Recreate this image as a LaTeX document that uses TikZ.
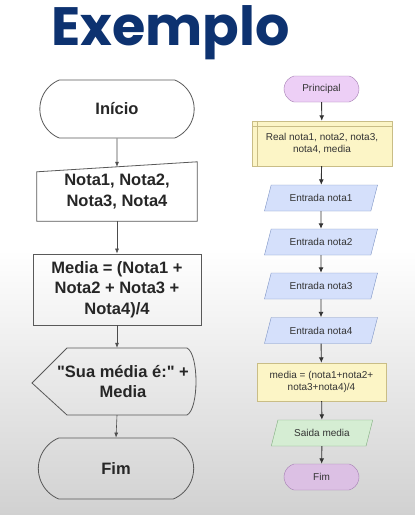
\documentclass[tikz,border=0pt]{standalone}
\usepackage{fontspec}
\newfontfamily\arial{Liberation Sans}
\newfontfamily\titlefont{Poppins}
\usetikzlibrary{shapes.geometric,shapes.misc,arrows.meta,calc}

\definecolor{azultitulo}{HTML}{0D3270}
\definecolor{lilas}{HTML}{EDCFF6}
\definecolor{lilasb}{HTML}{DCC0E4}
\definecolor{lilasborda}{HTML}{A57FB3}
\definecolor{amarelo}{HTML}{FCF5C6}
\definecolor{amareloborda}{HTML}{C9BD86}
\definecolor{azul}{HTML}{D5E0FB}
\definecolor{azulborda}{HTML}{7D93C4}
\definecolor{verde}{HTML}{D5EDD3}
\definecolor{verdeborda}{HTML}{80AE7E}

\begin{document}
\begin{tikzpicture}[x=1pt,y=-1pt]
  % Styles
  \tikzset{
    grande/.style={font=\arial\fontsize{16.5}{20.5}\selectfont\bfseries, align=center, text=black!85},
    pequeno/.style={font=\arial\fontsize{10}{12}\selectfont, align=center, text=black!80, inner sep=1pt},
    linha/.style={draw=black!65, line width=0.8pt},
    term/.style={rounded rectangle, rounded rectangle arc length=135, linha, grande},
    termr/.style={rounded rectangle, rounded rectangle arc length=150, draw=lilasborda, pequeno, minimum width=77, minimum height=26},
    proc/.style={rectangle, draw=amareloborda, fill=amarelo, pequeno},
    entrada/.style={trapezium, trapezium left angle=65, trapezium right angle=115, trapezium stretches=true,
      draw=azulborda, fill=azul, pequeno, minimum width=114, minimum height=26},
    seta/.style={-{Latex[length=5pt,width=4pt]}, black!70, line width=0.6pt},
    setar/.style={-{Latex[length=5.5pt,width=5pt]}, black!80, line width=0.9pt},
  }

  \useasboundingbox (0,0) rectangle (415,515);

  % Fundo
  \fill[white] (0,0) rectangle (415,515);
  \shade[top color=white, bottom color=black!18] (0,250) rectangle (415,515);

  % Titulo
  \node[anchor=base west, inner sep=0pt, text=azultitulo,
    font=\titlefont\fontsize{54}{54}\selectfont\bfseries] (titulo) at (51,45) {Exemplo};

  % Fluxograma da esquerda
  \node[term, minimum width=161, minimum height=58] (inicio) at (117,109) {Início};
  \node[grande, minimum width=160, minimum height=59] (notas) at (117,191.5) {Nota1, Nota2,\\Nota3, Nota4};
  \draw[linha] (notas.south west) -- (notas.south east) -- (notas.north east)
    -- ($(notas.north west)+(0,10)$) -- cycle;
  \node[grande, linha, minimum width=168, minimum height=71] (calculo) at (117,289.5)
    {Media = (Nota1 +\\Nota2 + Nota3 +\\Nota4)/4};
  \node[grande, minimum width=150, minimum height=67] (mostra) at (123,381.5) {"Sua média é:" +\\Media};
  \draw[linha] (32,383) -- (67,348) -- (187,348) .. controls (199,354) and (199,409) .. (187,415)
    -- (67,415) -- cycle;
  \node[term, minimum width=162, minimum height=61] (fim) at (116,468.5) {Fim};

  \draw[seta] (inicio) -- ($(notas.north)+(0,5)$);
  \draw[seta] (notas) -- (calculo);
  \draw[seta] (calculo.south) -- (calculo.south |- mostra.north);
  \draw[seta] (calculo.south |- mostra.south) -- (fim.north);

  % Fluxograma da direita
  \node[termr, fill=lilas] (principal) at (321.5,89) {Principal};
  \node[proc, minimum width=140, minimum height=45] (declara) at (322,143.5)
    {Real nota1, nota2, nota3,\\nota4, media};
  \draw[amareloborda, line width=0.6pt] ($(declara.north west)+(5,0)$) -- ($(declara.south west)+(5,0)$);
  \draw[amareloborda, line width=0.6pt] ($(declara.north west)+(0,5)$) -- ($(declara.north east)+(0,5)$);
  \foreach \i/\y in {1/198, 2/242, 3/286, 4/330.5}
    \node[entrada] (nota\i) at (321,\y) {Entrada nota\i};
  \node[proc, minimum width=129, minimum height=38] (media) at (321.5,382)
    {media = (nota1+nota2+\\nota3+nota4)/4};
  \node[entrada, draw=verdeborda, fill=verde, minimum width=102] (saida) at (322,433) {Saida media};
  \node[termr, fill=lilasb] (fimr) at (321.5,477) {Fim};

  \draw[setar] (principal) -- (declara);
  \draw[setar] (declara) -- (nota1);
  \foreach \a/\b in {1/2, 2/3, 3/4}
    \draw[setar] (nota\a) -- (nota\b);
  \draw[setar] (nota4) -- (media);
  \draw[setar] (media) -- (saida);
  \draw[setar] (saida) -- (fimr);

\end{tikzpicture}
\end{document}
